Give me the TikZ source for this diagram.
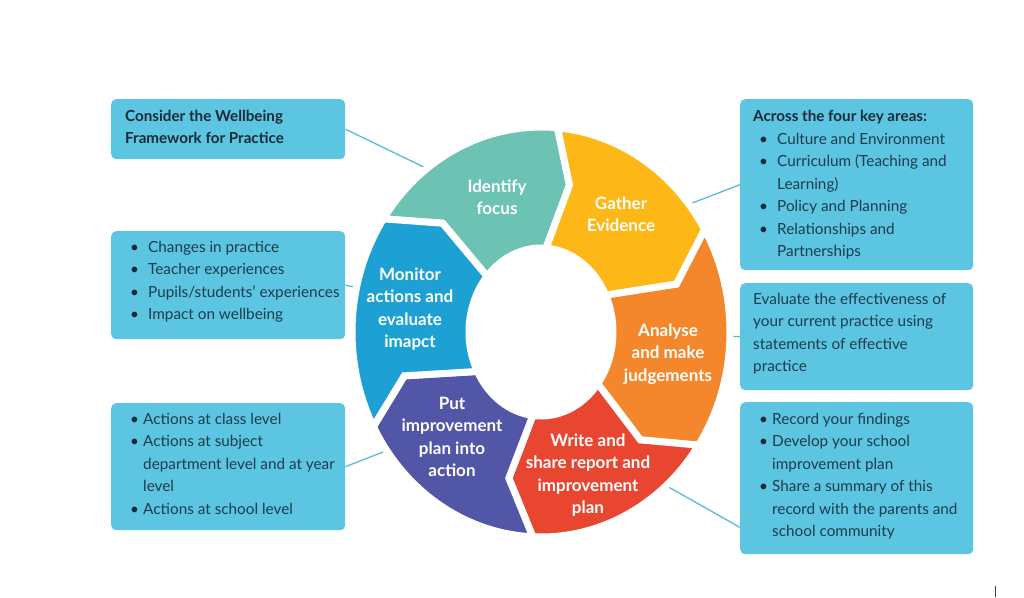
\documentclass[tikz,border=0pt]{standalone}
\usepackage{fontspec}
\setmainfont{Lato}
\definecolor{tealc}{RGB}{108,195,179}
\definecolor{yellowc}{RGB}{253,183,22}
\definecolor{orangec}{RGB}{244,134,43}
\definecolor{redc}{RGB}{232,70,48}
\definecolor{purplec}{RGB}{81,87,166}
\definecolor{bluec}{RGB}{29,161,213}
\definecolor{boxc}{RGB}{92,197,225}
\definecolor{linec}{RGB}{88,188,218}
\definecolor{txtc}{RGB}{30,60,76}
\definecolor{titlec}{RGB}{26,42,54}
\newcommand{\bul}[1]{\makebox[#1pt][l]{\hspace{4pt}\textcolor{titlec}{•}}}
\newcommand{\ind}[1]{\hspace*{#1pt}}
% #1 colour; #2,#3,#4 outer/tip/inner angles of the start boundary; #5,#6,#7 of the end boundary
\newcommand{\ringseg}[7]{%
  \path[fill=#1, draw=white, line width=7pt, line join=miter]
   ({541+189*cos(#2)},{332-205*sin(#2)})
   arc[start angle={-(#2)}, end angle={-(#5)}, x radius=189, y radius=205]
   -- ({541+143*cos(#6)},{332-150*sin(#6)})
   -- ({541+72*cos(#7)},{332-84*sin(#7)})
   arc[start angle={-(#7)}, end angle={-(#4)}, x radius=72, y radius=84]
   -- ({541+143*cos(#3)},{332-150*sin(#3)})
   -- cycle;}
\begin{document}
\begin{tikzpicture}[x=1pt,y=-1pt,
  box/.style={fill=boxc, rounded corners=5pt, draw=none, anchor=north west, inner sep=0pt},
  link/.style={draw=linec, line width=1.3pt},
  lab/.style={text=white, font=\fontsize{17}{22.5}\selectfont\bfseries, align=center, inner sep=0pt},
  btxt/.style={anchor=north west, inner sep=0pt, text=txtc, font=\fontsize{15.3}{22.5}\selectfont, align=left},
  ttxt/.style={anchor=north west, inner sep=0pt, text=titlec, font=\fontsize{15.2}{22.5}\selectfont\bfseries, align=left}
]
\useasboundingbox (0,0) rectangle (1024,597);
\fill[white] (0,0) rectangle (1024,597);

% boxes
\node[box, minimum width=234pt, minimum height=60pt] (b1) at (111,99) {};
\node[box, minimum width=234pt, minimum height=108pt] (b2) at (111,231) {};
\node[box, minimum width=234pt, minimum height=127pt] (b3) at (111,403) {};
\node[box, minimum width=233pt, minimum height=171pt] (b4) at (740,99) {};
\node[box, minimum width=233pt, minimum height=107pt] (b5) at (740,283) {};
\node[box, minimum width=233pt, minimum height=152pt] (b6) at (740,402) {};

% box texts
\node[ttxt] (t1) at (125,110) {Consider the Wellbeing\\Framework for Practice};
\node[btxt] (t2) at (126,241) {\bul{22}Changes in practice\\\bul{22}Teacher experiences\\\bul{22}Pupils/students' experiences\\\bul{22}Impact on wellbeing};
\node[btxt] (t3) at (126,413) {\bul{17}Actions at class level\\\bul{17}Actions at subject\\\ind{17}department level and at year\\\ind{17}level\\\bul{17}Actions at school level};
\node[ttxt] (t4) at (753,110) {Across the four key areas:};
\node[btxt] (t4b) at (755,133) {\bul{22}Culture and Environment\\\bul{22}Curriculum (Teaching and\\\ind{22}Learning)\\\bul{22}Policy and Planning\\\bul{22}Relationships and\\\ind{22}Partnerships};
\node[btxt] (t5) at (753,293) {Evaluate the effectiveness of\\your current practice using\\statements of effective\\practice};
\node[btxt] (t6) at (755,413) {\bul{17}Record your findings\\\bul{17}Develop your school\\\ind{17}improvement plan\\\bul{17}Share a summary of this\\\ind{17}record with the parents and\\\ind{17}school community};

% connector end points
\coordinate (e1) at (430,170);
\coordinate (e2) at (360,288);
\coordinate (e3) at (383,452);
\coordinate (e4) at (687,205);
\coordinate (e5) at (724,336);
\coordinate (e6) at (665,485);
\draw[link] (b1.east) -- (e1);
\draw[link] (b2.east) -- (e2);
\draw[link] (b3.east) -- (e3);
\draw[link] (b4.west) -- (e4);
\draw[link] (b5.west) -- (e5);
\draw[link] ([yshift=27pt]b6.south west) -- (e6);

% ring: boundaries (outer, tip, inner angles)
% B1 146.5/133.5/138.5  B2 85/78.5/86  B3 30/18.6/26  B4 -33.5/-46/-38
% B5 -92.5/-103/-96.5   B6 -152.5/-163/-152
\ringseg{tealc}{146.5}{133.5}{138.5}{85}{78.5}{86}
\ringseg{yellowc}{85}{78.5}{86}{30}{18.6}{26}
\ringseg{orangec}{30}{18.6}{26}{-33.5}{-46}{-38}
\ringseg{redc}{-33.5}{-46}{-38}{-92.5}{-103}{-96.5}
\ringseg{purplec}{-92.5}{-103}{-96.5}{-152.5}{-163}{-152}
\ringseg{bluec}{-152.5}{-163}{-152}{-213.5}{-226.5}{-221.5}

% labels
\node[lab] (l1) at (497,197) {Identify\\focus};
\node[lab] (l2) at (621,214) {Gather\\Evidence};
\node[lab] (l3) at (668,354) {Analyse\\and make\\judgements};
\node[lab] (l4) at (588,475) {Write and\\share report and\\improvement\\plan};
\node[lab] (l5) at (452,437) {Put\\improvement\\plan into\\action};
\node[lab] (l6) at (410,309) {Monitor\\actions and\\evaluate\\imapct};

\draw[black!75, line width=1pt] (995,586) -- (995,597);
\end{tikzpicture}
\end{document}
